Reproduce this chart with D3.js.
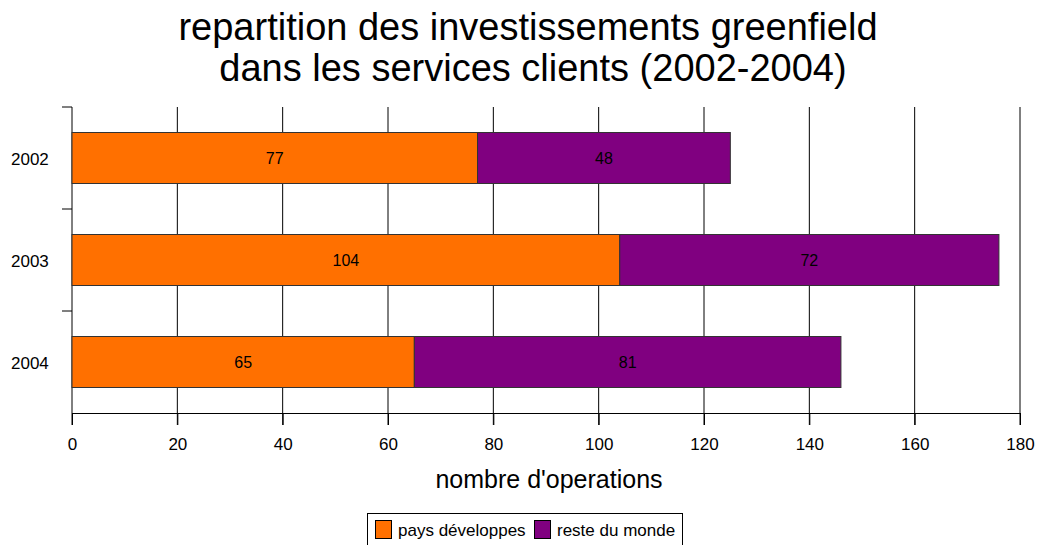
<!DOCTYPE html>
<html>
<head>
<meta charset="utf-8">
<script src="https://d3js.org/d3.v7.min.js"></script>
<style>
  body { margin: 0; background: #fff; }
  svg { font-family: "Liberation Sans", Arial, sans-serif; }
</style>
</head>
<body>
<div id="container"></div>
<script>
var years = ["2002", "2003", "2004"];
var developpes = [77, 104, 65];
var resteMonde = [48, 72, 81];
var seriesNames = ["pays développes", "reste du monde"];
var colors = ["#ff7000", "#800080"];
var xTicks = [0, 20, 40, 60, 80, 100, 120, 140, 160, 180];

var width = 1038, height = 545;
var plotLeft = 72, plotRight = 1020, plotTop = 107, plotBottom = 413;

var svg = d3.select("#container").append("svg")
    .attr("width", width)
    .attr("height", height);

var x = d3.scaleLinear().domain([0, 180]).range([plotLeft, plotRight]);
var y = d3.scaleBand().domain(years).range([plotTop, plotBottom]).paddingInner(0.5).paddingOuter(0.25);

// title
var title = svg.append("text")
    .attr("text-anchor", "middle")
    .style("font-size", "38px")
    .attr("fill", "#000");
title.append("tspan").attr("x", 528).attr("y", 40).text("repartition des investissements greenfield");
title.append("tspan").attr("x", 533).attr("y", 81).text("dans les services clients (2002-2004)");

// vertical grid lines + ticks below
svg.append("g").selectAll("line")
    .data(xTicks.slice(1))
    .enter().append("line")
    .attr("x1", function(d) { return x(d); })
    .attr("x2", function(d) { return x(d); })
    .attr("y1", plotTop)
    .attr("y2", plotBottom + 12)
    .attr("stroke", "#000")
    .attr("stroke-width", 1);

// bottom axis
var xAxis = d3.axisBottom(x).tickValues(xTicks).tickSize(12).tickSizeOuter(0).tickPadding(13);
var gx = svg.append("g")
    .attr("transform", "translate(0," + plotBottom + ")")
    .call(xAxis);
gx.selectAll("text").style("font-size", "17px").attr("fill", "#000").style("font-family", "Liberation Sans, Arial, sans-serif");
gx.select(".domain").attr("stroke", "#000");

// left axis with ticks between categories
var bandStep = (plotBottom - plotTop) / years.length;
var catTicks = d3.range(years.length).map(function(i) { return plotTop + i * bandStep; });
svg.append("line")
    .attr("x1", plotLeft).attr("x2", plotLeft)
    .attr("y1", plotTop).attr("y2", plotBottom + 12)
    .attr("stroke", "#000");
svg.append("g").selectAll("line")
    .data(catTicks)
    .enter().append("line")
    .attr("x1", plotLeft - 10).attr("x2", plotLeft)
    .attr("y1", function(d) { return d; })
    .attr("y2", function(d) { return d; })
    .attr("stroke", "#000");
svg.append("g").selectAll("text")
    .data(years)
    .enter().append("text")
    .attr("x", 11)
    .attr("y", function(d) { return y(d) + y.bandwidth() / 2; })
    .attr("dy", "0.4em")
    .style("font-size", "17px")
    .text(function(d) { return d; });

// stacked bars
var rows = years.map(function(yr, i) { return { year: yr, a: developpes[i], b: resteMonde[i] }; });
var stack = d3.stack().keys(["a", "b"])(rows);

var layers = svg.append("g").selectAll("g")
    .data(stack)
    .enter().append("g")
    .attr("fill", function(d, i) { return colors[i]; });

layers.selectAll("rect")
    .data(function(d) { return d; })
    .enter().append("rect")
    .attr("x", function(d) { return x(d[0]); })
    .attr("y", function(d) { return y(d.data.year); })
    .attr("width", function(d) { return x(d[1]) - x(d[0]); })
    .attr("height", y.bandwidth())
    .attr("stroke", "#333")
    .attr("stroke-width", 1);

layers.selectAll("text")
    .data(function(d) { return d; })
    .enter().append("text")
    .attr("x", function(d) { return (x(d[0]) + x(d[1])) / 2; })
    .attr("y", function(d) { return y(d.data.year) + y.bandwidth() / 2; })
    .attr("dy", "0.4em")
    .attr("text-anchor", "middle")
    .attr("fill", "#000")
    .style("font-size", "16px")
    .text(function(d) { return d[1] - d[0]; });

// axis title
svg.append("text")
    .attr("x", 549)
    .attr("y", 488)
    .attr("text-anchor", "middle")
    .style("font-size", "25px")
    .text("nombre d'operations");

// legend
var legend = svg.append("g");
legend.append("rect")
    .attr("x", 367.5).attr("y", 513.5)
    .attr("width", 315).attr("height", 34)
    .attr("fill", "#fff").attr("stroke", "#000");
var legendX = [375, 534];
seriesNames.forEach(function(name, i) {
  legend.append("rect")
      .attr("x", legendX[i] + 0.5).attr("y", 520.5)
      .attr("width", 16).attr("height", 18)
      .attr("fill", colors[i]).attr("stroke", "#000");
  legend.append("text")
      .attr("x", legendX[i] + 23)
      .attr("y", 536)
      .style("font-size", "17px")
      .text(name);
});
</script>
</body>
</html>
